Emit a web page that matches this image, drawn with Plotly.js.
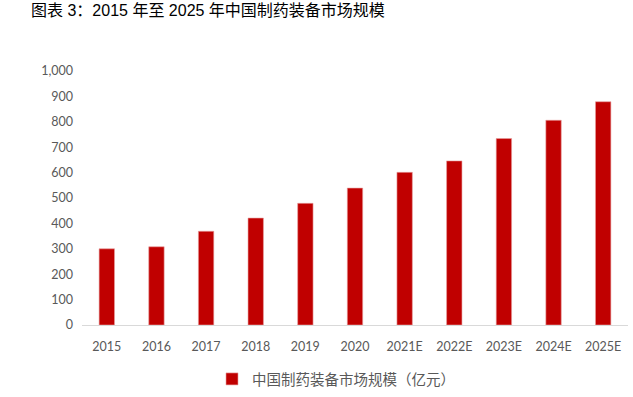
<!DOCTYPE html>
<html>
<head>
<meta charset="utf-8">
<script src="https://cdn.plot.ly/plotly-3.0.1.min.js"></script>
<style>html,body{margin:0;padding:0;background:#fff;}#chart{width:633px;height:397px;}</style>
</head>
<body>
<div id="chart"></div>
<script>
const categories = ["2015","2016","2017","2018","2019","2020","2021E","2022E","2023E","2024E","2025E"];
const marketSize = [300, 308, 369, 421, 479, 539, 601, 646, 734, 806, 879];
const yTickVals = [0,100,200,300,400,500,600,700,800,900,1000];
const yTickText = ["0","100","200","300","400","500","600","700","800","900","1,000"];
const seriesName = "中国制药装备市场规模（亿元）";
const titleText = "图表 3：2015 年至 2025 年中国制药装备市场规模";

const trace = {
  type: "bar",
  x: categories,
  y: marketSize,
  name: seriesName,
  marker: {color: "#C00000", line: {color: "#E8A0A0", width: 0.6}},
  hoverinfo: "x+y"
};

const layout = {
  width: 633, height: 397,
  margin: {l: 82, r: 5, t: 70.5, b: 71.5},
  paper_bgcolor: "#fff", plot_bgcolor: "#fff",
  bargap: 0.69,
  showlegend: true,
  title: {
    text: titleText,
    font: {family: "Liberation Sans, Noto Sans CJK SC, sans-serif", size: 16, color: "#000"},
    xref: "container", yref: "container",
    x: 31/633, xanchor: "left",
    y: 1 - 10/397, yanchor: "middle"
  },
  xaxis: {
    type: "category",
    showgrid: false,
    showline: true, linecolor: "#D9D9D9", linewidth: 1,
    ticks: "", ticklen: 0,
    tickfont: {family: "Lato, Open Sans, sans-serif", size: 12.5, color: "#595959"},
    ticklabelstandoff: 10,
    zeroline: false
  },
  yaxis: {
    range: [0, 1000],
    tickvals: yTickVals, ticktext: yTickText,
    showgrid: false, showline: false, zeroline: false,
    ticks: "", ticklen: 0,
    tickfont: {family: "Lato, Open Sans, sans-serif", size: 12.5, color: "#595959"},
    ticklabelstandoff: 8
  },
  legend: {
    orientation: "h",
    xref: "container", yref: "container",
    x: 336/633, xanchor: "center",
    y: 1 - 379/397, yanchor: "middle",
    itemwidth: 30,
    font: {family: "Noto Sans CJK SC, sans-serif", size: 14.5, color: "#595959"},
    bgcolor: "rgba(0,0,0,0)"
  }
};

Plotly.newPlot("chart", [trace], layout, {displayModeBar: false, staticPlot: true});
</script>
</body>
</html>
